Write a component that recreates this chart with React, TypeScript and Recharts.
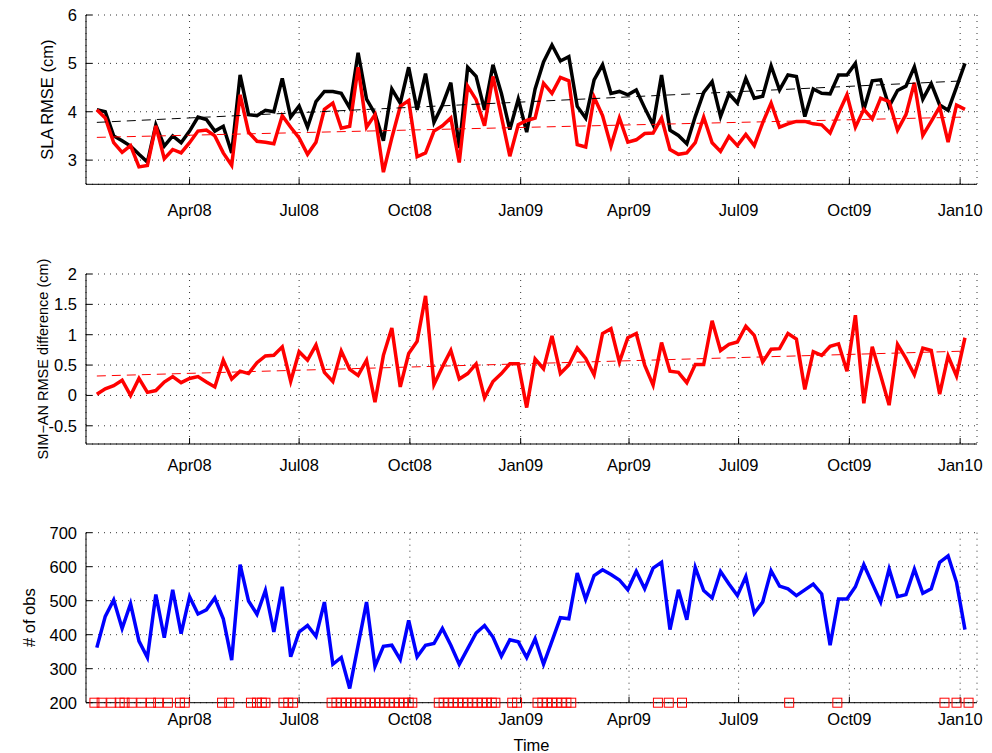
import React from "react";
import { ComposedChart, Line, Scatter, XAxis, YAxis, CartesianGrid } from "recharts";

// x is "days since 1 Jan 2008"; one value per week from 15 Jan 2008
const FIRST_DAY = 14;
const X_DOMAIN = [5, 745];

const monthTicks = [91, 182, 274, 366, 456, 547, 639, 731];
const monthLabels = ["Apr08", "Jul08", "Oct08", "Jan09", "Apr09", "Jul09", "Oct09", "Jan10"];

const slaSim = [
  4.04, 4.0, 3.5, 3.4, 3.29, 3.12, 2.96, 3.73, 3.29, 3.5, 3.36, 3.6, 3.89, 3.84, 3.6, 3.7, 3.15, 4.76, 3.94, 3.92, 4.03, 4.0, 4.69, 3.89, 4.12, 3.68,
  4.21, 4.42, 4.42, 4.38, 4.08, 5.22, 4.26, 3.96, 3.4, 4.47, 4.18, 4.92, 4.04, 4.79, 3.78, 4.14, 4.6, 3.25, 4.92, 4.73, 4.04, 4.97, 4.38, 3.63, 4.26, 3.58,
  4.47, 5.03, 5.38, 5.05, 5.14, 4.11, 3.87, 4.66, 4.97, 4.38, 4.42, 4.35, 4.45, 4.08, 3.73, 4.76, 3.62, 3.51, 3.34, 3.9, 4.4, 4.62, 3.9, 4.37, 4.18, 4.69,
  4.28, 4.32, 4.95, 4.45, 4.76, 4.73, 3.9, 4.47, 4.38, 4.37, 4.76, 4.76, 5.0, 4.04, 4.64, 4.66, 4.11, 4.44, 4.53, 4.93, 4.26, 4.58, 4.14, 4.03, 4.51, 5.0,
];
const slaAn = [
  4.04, 3.87, 3.36, 3.16, 3.3, 2.86, 2.89, 3.71, 3.03, 3.22, 3.15, 3.36, 3.6, 3.62, 3.5, 3.15, 2.89, 4.35, 3.58, 3.39, 3.37, 3.34, 3.92, 3.68, 3.46, 3.12,
  3.37, 4.05, 4.18, 3.66, 3.7, 4.92, 3.68, 3.94, 2.75, 3.46, 4.11, 4.23, 3.07, 3.15, 3.6, 3.71, 3.87, 2.95, 4.53, 4.25, 3.71, 4.73, 3.9, 3.08, 3.73, 3.82,
  3.87, 4.59, 4.38, 4.71, 4.64, 3.32, 3.27, 4.3, 3.92, 3.29, 3.87, 3.37, 3.42, 3.55, 3.56, 3.87, 3.22, 3.12, 3.15, 3.36, 3.89, 3.36, 3.18, 3.49, 3.3, 3.53,
  3.3, 3.77, 4.18, 3.68, 3.75, 3.8, 3.8, 3.75, 3.73, 3.56, 3.97, 4.35, 3.68, 4.05, 3.85, 4.28, 4.21, 3.62, 3.94, 4.6, 3.51, 3.8, 4.1, 3.37, 4.14, 4.05,
];
const rmseDiff = [
  0.02, 0.11, 0.16, 0.25, 0.0, 0.28, 0.05, 0.08, 0.22, 0.31, 0.21, 0.28, 0.31, 0.22, 0.14, 0.58, 0.27, 0.4, 0.36, 0.54, 0.65, 0.66, 0.8, 0.23, 0.72, 0.58,
  0.83, 0.38, 0.23, 0.73, 0.43, 0.33, 0.58, -0.11, 0.66, 1.11, 0.14, 0.69, 0.89, 1.64, 0.18, 0.47, 0.74, 0.27, 0.36, 0.52, -0.04, 0.23, 0.36, 0.52, 0.52, -0.2,
  0.6, 0.44, 0.98, 0.36, 0.5, 0.78, 0.61, 0.34, 1.02, 1.1, 0.55, 0.95, 1.02, 0.5, 0.17, 0.87, 0.4, 0.38, 0.21, 0.51, 0.51, 1.23, 0.74, 0.84, 0.88, 1.14,
  0.99, 0.55, 0.76, 0.77, 1.02, 0.93, 0.1, 0.72, 0.66, 0.81, 0.85, 0.4, 1.32, -0.13, 0.8, 0.33, -0.16, 0.84, 0.61, 0.34, 0.78, 0.74, 0.02, 0.65, 0.32, 0.95,
];
const obsCount = [
  362, 454, 502, 418, 491, 381, 333, 518, 391, 532, 403, 512, 461, 473, 508, 447, 325, 606, 499, 460, 530, 408, 541, 335, 408, 427,
  395, 496, 313, 333, 242, 369, 496, 307, 366, 369, 327, 442, 335, 369, 374, 418, 369, 313, 359, 405, 427, 393, 337, 385, 379, 333,
  388, 313, 381, 450, 447, 581, 504, 574, 591, 577, 561, 532, 586, 535, 596, 613, 415, 532, 444, 598, 530, 508, 586, 549, 515, 571,
  463, 496, 588, 543, 535, 515, 532, 549, 520, 369, 505, 505, 541, 606, 551, 496, 593, 512, 518, 593, 522, 535, 613, 632, 554, 415,
];
// days flagged with red squares on the bottom panel
const flaggedDays = [
  12, 18, 26, 33, 37, 43, 51, 59, 65, 73, 83, 87, 118, 124, 142, 147, 151, 154, 169, 173, 177,
  209, 213, 217, 221, 225, 229, 233, 237, 241, 245, 249, 253, 257, 261, 265, 269, 273, 276,
  298, 302, 306, 310, 314, 318, 322, 326, 330, 334, 338, 342, 345, 359, 363,
  380, 384, 388, 392, 396, 400, 404, 408, 480, 489, 500, 589, 629, 718, 728, 738,
];

const simTrend = [3.78, 4.64];
const anTrend = [3.47, 3.89];
const diffTrend = [0.32, 0.73];

const lastDay = FIRST_DAY + 7 * (slaSim.length - 1);
const weekly = slaSim.map((v, i) => ({
  day: FIRST_DAY + 7 * i,
  sim: v,
  an: slaAn[i],
  diff: rmseDiff[i],
  obs: obsCount[i],
}));
const trendRows = (vals: number[]) => [
  { day: FIRST_DAY, v: vals[0] },
  { day: lastDay, v: vals[1] },
];
const flagged = flaggedDays.map((d) => ({ day: d, v: 200 }));

const FONT = 16.5;
const tickStyle = { fill: "#000", fontSize: FONT };
const fmtMonth = (d: number) => monthLabels[monthTicks.indexOf(d)] ?? "";
const fmtNum = (v: number) => (v < 0 ? "-" + String(-v) : String(v));

function yLabel(text: string, x: number, size: number) {
  return (props: any) => {
    const vb = props.viewBox || { y: 0, height: 0 };
    const cy = vb.y + vb.height / 2;
    return (
      <text x={x} y={cy} transform={`rotate(-90 ${x} ${cy})`} textAnchor="middle" dominantBaseline="central" fontSize={size} fill="#000">
        {text}
      </text>
    );
  };
}

function timeLabel(props: any) {
  const vb = props.viewBox || { x: 0, y: 0, width: 0 };
  return (
    <text x={vb.x + vb.width / 2} y={vb.y + 42} textAnchor="middle" dominantBaseline="central" fontSize={FONT} fill="#000">
      Time
    </text>
  );
}

function square(props: any) {
  const { cx, cy } = props;
  return <rect x={cx - 4.5} y={cy - 4.5} width={9} height={9} fill="none" stroke="#ff0000" strokeWidth={1} />;
}

interface PanelProps {
  top: number;
  height: number;
  margin: { top: number; right: number; bottom: number; left: number };
  yDomain: number[];
  yTicks: number[];
  label: string;
  labelX: number;
  labelSize: number;
  xTickMargin: number;
  xLabel?: boolean;
  children: React.ReactNode;
}

function Panel({ top, height, margin, yDomain, yTicks, label, labelX, labelSize, xTickMargin, xLabel, children }: PanelProps) {
  return (
    <div style={{ position: "absolute", left: 0, top, width: 992, height }}>
      <ComposedChart width={992} height={height} data={weekly} margin={margin}>
        <CartesianGrid stroke="#333" strokeDasharray="1 5" />
        <XAxis
          dataKey="day"
          type="number"
          domain={X_DOMAIN}
          ticks={monthTicks}
          interval={0}
          tickFormatter={fmtMonth}
          tick={tickStyle}
          tickSize={-6}
          tickMargin={xTickMargin}
          height={30}
          axisLine={{ stroke: "#000" }}
          tickLine={{ stroke: "#000" }}
          label={xLabel ? { content: timeLabel } : undefined}
        />
        <XAxis
          xAxisId="top"
          orientation="top"
          type="number"
          domain={X_DOMAIN}
          ticks={monthTicks}
          interval={0}
          tick={false}
          tickSize={-6}
          height={0}
          allowDataOverflow
          axisLine={{ stroke: "#000" }}
          tickLine={{ stroke: "#000" }}
        />
        <YAxis
          type="number"
          domain={yDomain}
          ticks={yTicks}
          interval={0}
          tickFormatter={fmtNum}
          tick={tickStyle}
          tickSize={-6}
          tickMargin={15}
          width={86}
          axisLine={{ stroke: "#000" }}
          tickLine={{ stroke: "#000" }}
          label={{ content: yLabel(label, labelX, labelSize) }}
        />
        <YAxis
          yAxisId="right"
          orientation="right"
          type="number"
          domain={yDomain}
          ticks={yTicks}
          interval={0}
          tick={false}
          tickSize={-6}
          width={0}
          allowDataOverflow
          axisLine={{ stroke: "#000" }}
          tickLine={{ stroke: "#000" }}
        />
        {children}
      </ComposedChart>
    </div>
  );
}

export default function App() {
  return (
    <div
      style={{
        position: "absolute",
        left: 0,
        top: 0,
        width: 992,
        height: 753,
        background: "#fff",
        fontFamily: "'Liberation Sans', Arial, Helvetica, sans-serif",
      }}
    >
      <Panel
        top={0}
        height={240}
        margin={{ top: 15, right: 15, bottom: 25.7, left: 0 }}
        yDomain={[2.5, 6]}
        yTicks={[3, 4, 5, 6]}
        label="SLA RMSE (cm)"
        labelX={47}
        labelSize={FONT}
        xTickMargin={26}
      >
        <Line dataKey="sim" stroke="#000" strokeWidth={3.5} dot={false} isAnimationActive={false} />
        <Line dataKey="an" stroke="#ff0000" strokeWidth={3.5} dot={false} isAnimationActive={false} />
        <Line data={trendRows(simTrend)} dataKey="v" stroke="#000" strokeWidth={1} strokeDasharray="9 6" dot={false} isAnimationActive={false} />
        <Line data={trendRows(anTrend)} dataKey="v" stroke="#ff0000" strokeWidth={1} strokeDasharray="9 6" dot={false} isAnimationActive={false} />
      </Panel>
      <Panel
        top={240}
        height={250}
        margin={{ top: 34, right: 15, bottom: 16, left: 0 }}
        yDomain={[-0.8, 2]}
        yTicks={[-0.5, 0, 0.5, 1, 1.5, 2]}
        label="SIM−AN RMSE difference (cm)"
        labelX={43}
        labelSize={14.5}
        xTickMargin={21}
      >
        <Line dataKey="diff" stroke="#ff0000" strokeWidth={3.5} dot={false} isAnimationActive={false} />
        <Line data={trendRows(diffTrend)} dataKey="v" stroke="#ff0000" strokeWidth={1} strokeDasharray="9 6" dot={false} isAnimationActive={false} />
      </Panel>
      <Panel
        top={490}
        height={263}
        margin={{ top: 42.7, right: 15, bottom: 20.3, left: 0 }}
        yDomain={[200, 700]}
        yTicks={[200, 300, 400, 500, 600, 700]}
        label="# of obs"
        labelX={29}
        labelSize={FONT}
        xTickMargin={17}
        xLabel
      >
        <Line dataKey="obs" stroke="#0000ff" strokeWidth={3.5} dot={false} isAnimationActive={false} />
        <Scatter data={flagged} dataKey="v" shape={square} isAnimationActive={false} />
      </Panel>
    </div>
  );
}
